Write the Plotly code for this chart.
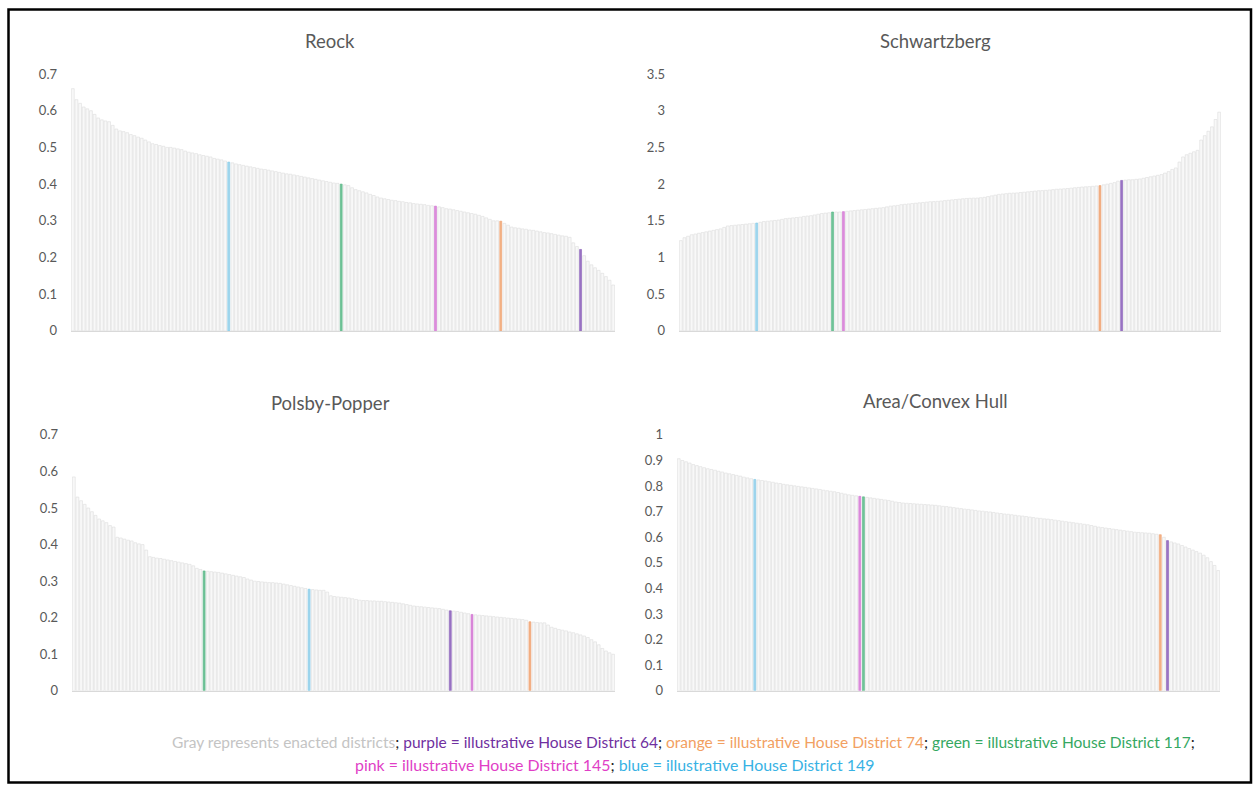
import plotly.graph_objects as go

W, H = 1258, 792

# ---------------- data (150 enacted districts per metric, sorted as in the chart) ----------------
reock = [
    0.66, 0.63, 0.62, 0.61, 0.605, 0.60, 0.59, 0.58, 0.575, 0.572,
    0.57, 0.56, 0.55, 0.545, 0.543, 0.54, 0.535, 0.532, 0.528, 0.525,
    0.52, 0.515, 0.51, 0.508, 0.505, 0.503, 0.50, 0.50, 0.498, 0.496,
    0.494, 0.49, 0.487, 0.485, 0.483, 0.48, 0.478, 0.476, 0.474, 0.47,
    0.468, 0.466, 0.463, 0.46, 0.458, 0.455, 0.453, 0.451, 0.449, 0.447,
    0.445, 0.443, 0.441, 0.44, 0.438, 0.436, 0.434, 0.432, 0.43, 0.428,
    0.427, 0.425, 0.423, 0.421, 0.419, 0.417, 0.415, 0.413, 0.411, 0.409,
    0.407, 0.405, 0.403, 0.402, 0.40, 0.398, 0.396, 0.39, 0.385, 0.382,
    0.379, 0.376, 0.372, 0.369, 0.365, 0.362, 0.36, 0.358, 0.356, 0.355,
    0.353, 0.352, 0.35, 0.349, 0.347, 0.346, 0.345, 0.344, 0.342, 0.341,
    0.34, 0.338, 0.336, 0.333, 0.332, 0.33, 0.328, 0.326, 0.324, 0.322,
    0.32, 0.318, 0.315, 0.312, 0.308, 0.304, 0.30, 0.30, 0.299, 0.293,
    0.288, 0.283, 0.281, 0.28, 0.278, 0.277, 0.275, 0.274, 0.272, 0.27,
    0.268, 0.267, 0.265, 0.263, 0.261, 0.259, 0.258, 0.255, 0.24, 0.23,
    0.222, 0.205, 0.19, 0.18, 0.172, 0.165, 0.157, 0.148, 0.138, 0.125,
]
schwartzberg = [
    1.23, 1.27, 1.29, 1.31, 1.32, 1.33, 1.34, 1.35, 1.36, 1.37,
    1.38, 1.39, 1.41, 1.43, 1.435, 1.44, 1.445, 1.45, 1.455, 1.46,
    1.465, 1.47, 1.48, 1.49, 1.495, 1.50, 1.505, 1.51, 1.52, 1.53,
    1.535, 1.54, 1.545, 1.55, 1.56, 1.565, 1.57, 1.58, 1.59, 1.60,
    1.605, 1.61, 1.62, 1.62, 1.62, 1.625, 1.63, 1.635, 1.64, 1.645,
    1.65, 1.655, 1.66, 1.665, 1.67, 1.675, 1.68, 1.69, 1.70, 1.705,
    1.71, 1.72, 1.725, 1.73, 1.735, 1.74, 1.745, 1.75, 1.755, 1.76,
    1.762, 1.765, 1.77, 1.775, 1.78, 1.785, 1.79, 1.795, 1.80, 1.805,
    1.807, 1.809, 1.81, 1.815, 1.82, 1.83, 1.84, 1.85, 1.86, 1.865,
    1.87, 1.875, 1.878, 1.88, 1.885, 1.89, 1.895, 1.90, 1.905, 1.91,
    1.912, 1.915, 1.92, 1.925, 1.93, 1.933, 1.936, 1.94, 1.945, 1.95,
    1.955, 1.96, 1.963, 1.966, 1.97, 1.975, 1.98, 1.99, 2.00, 2.01,
    2.02, 2.04, 2.05, 2.055, 2.06, 2.06, 2.065, 2.07, 2.08, 2.09,
    2.10, 2.11, 2.12, 2.13, 2.15, 2.17, 2.20, 2.22, 2.30, 2.37,
    2.40, 2.42, 2.44, 2.46, 2.60, 2.66, 2.72, 2.78, 2.88, 2.98,
]
polsby_popper = [
    0.585, 0.53, 0.52, 0.51, 0.50, 0.49, 0.48, 0.47, 0.465, 0.46,
    0.452, 0.448, 0.42, 0.418, 0.415, 0.412, 0.41, 0.405, 0.402, 0.40,
    0.385, 0.367, 0.365, 0.363, 0.362, 0.36, 0.358, 0.356, 0.354, 0.352,
    0.35, 0.348, 0.346, 0.342, 0.335, 0.332, 0.328, 0.327, 0.326, 0.325,
    0.324, 0.322, 0.32, 0.318, 0.316, 0.314, 0.312, 0.31, 0.306, 0.303,
    0.30, 0.299, 0.298, 0.297, 0.296, 0.296, 0.295, 0.294, 0.292, 0.29,
    0.288, 0.286, 0.284, 0.282, 0.28, 0.278, 0.277, 0.276, 0.275, 0.275,
    0.27, 0.26, 0.258, 0.257, 0.256, 0.255, 0.254, 0.252, 0.25, 0.248,
    0.247, 0.247, 0.246, 0.246, 0.245, 0.245, 0.244, 0.243, 0.242, 0.241,
    0.24, 0.238, 0.236, 0.234, 0.232, 0.231, 0.23, 0.229, 0.228, 0.227,
    0.226, 0.225, 0.223, 0.221, 0.219, 0.218, 0.217, 0.215, 0.213, 0.211,
    0.209, 0.208, 0.207, 0.206, 0.205, 0.204, 0.203, 0.202, 0.201, 0.20,
    0.199, 0.198, 0.197, 0.196, 0.195, 0.193, 0.189, 0.188, 0.187, 0.186,
    0.186, 0.18, 0.174, 0.171, 0.168, 0.166, 0.164, 0.161, 0.159, 0.156,
    0.153, 0.15, 0.146, 0.14, 0.134, 0.126, 0.116, 0.109, 0.104, 0.10,
]
area_convex_hull = [
    0.907, 0.90, 0.895, 0.89, 0.884, 0.88, 0.876, 0.872, 0.868, 0.865,
    0.862, 0.858, 0.855, 0.851, 0.848, 0.845, 0.842, 0.839, 0.835, 0.832,
    0.829, 0.826, 0.824, 0.822, 0.82, 0.817, 0.815, 0.812, 0.81, 0.807,
    0.805, 0.803, 0.801, 0.799, 0.797, 0.795, 0.793, 0.791, 0.789, 0.787,
    0.784, 0.782, 0.78, 0.778, 0.775, 0.772, 0.769, 0.766, 0.764, 0.762,
    0.76, 0.758, 0.756, 0.754, 0.752, 0.75, 0.748, 0.746, 0.744, 0.741,
    0.738, 0.736, 0.734, 0.733, 0.732, 0.731, 0.73, 0.729, 0.728, 0.727,
    0.726, 0.725, 0.723, 0.721, 0.72, 0.718, 0.716, 0.714, 0.712, 0.71,
    0.709, 0.707, 0.705, 0.703, 0.702, 0.70, 0.699, 0.697, 0.695, 0.693,
    0.691, 0.69, 0.688, 0.686, 0.684, 0.683, 0.681, 0.679, 0.677, 0.675,
    0.674, 0.672, 0.671, 0.669, 0.667, 0.665, 0.663, 0.661, 0.659, 0.657,
    0.655, 0.653, 0.651, 0.649, 0.646, 0.643, 0.64, 0.638, 0.636, 0.634,
    0.632, 0.63, 0.628, 0.626, 0.624, 0.622, 0.62, 0.619, 0.618, 0.617,
    0.616, 0.614, 0.612, 0.61, 0.60, 0.587, 0.582, 0.578, 0.574, 0.568,
    0.562, 0.556, 0.55, 0.544, 0.538, 0.53, 0.52, 0.505, 0.49, 0.47,
]

# positions (0-based rank) of the illustrative districts in each sorted metric
highlight_names = ["purple", "orange", "green", "pink", "blue"]
reock_highlight = [140, 118, 74, 100, 43]
schwartzberg_highlight = [122, 116, 42, 45, 21]
polsby_popper_highlight = [104, 126, 36, 110, 65]
area_convex_hull_highlight = [135, 133, 51, 50, 21]

panel_titles = ["Reock", "Schwartzberg", "Polsby-Popper", "Area/Convex Hull"]
y_ranges = [[0, 0.7], [0, 3.5], [0, 0.7], [0, 1.0]]
y_dticks = [0.1, 0.5, 0.1, 0.1]

caption_parts = [
    ("Gray represents enacted districts", "gray"),
    ("; ", "sep"),
    ("purple = illustrative House District 64", "purple"),
    ("; ", "sep"),
    ("orange = illustrative House District 74", "orange"),
    ("; ", "sep"),
    ("green = illustrative House District 117", "green"),
    (";", "sep"),
]
caption_parts2 = [
    ("pink = illustrative House District 145", "pink"),
    ("; ", "sep"),
    ("blue = illustrative House District 149", "blue"),
]

# ---------------- styles ----------------
bar_fill = {"purple": "#9a74c4", "orange": "#f3b388", "green": "#72c49a",
            "pink": "#dc8edc", "blue": "#a3d8ee"}
bar_edge = {"purple": "#8a60b8", "orange": "#efa06e", "green": "#55b583",
            "pink": "#d274d2", "blue": "#80c8e6"}
text_col = {"gray": "#c4c4c4", "sep": "#222222", "purple": "#7030a0", "orange": "#f2a062",
            "green": "#35a862", "pink": "#e03ec6", "blue": "#38b2e4"}
gray_fill = "#f8f8f8"
gray_edge = "#dedede"
label_col = "#595959"
FONT = "Lato"


# screen-y (target picture) -> layout pixel, compensating the observed vertical offset/scale
def py(y):
    return (y - 8.0) / 0.98


# pixel layout of plot areas (left, right, top, bottom) in target-picture pixels
areas = [(71, 615, 74, 331), (679, 1221, 74, 331), (72, 615, 435, 691), (677, 1220, 435, 691)]
title_pos = [(330, 41), (935, 41), (330, 403), (935, 401)]

datasets = [reock, schwartzberg, polsby_popper, area_convex_hull]
highlights = [reock_highlight, schwartzberg_highlight, polsby_popper_highlight, area_convex_hull_highlight]

fig = go.Figure()
layout_axes = {}
annotations = []

for k, (vals, hl) in enumerate(zip(datasets, highlights)):
    n = len(vals)
    cats = list(range(1, n + 1))
    fills = [gray_fill] * n
    edges = [gray_edge] * n
    widths = [0.78] * n
    for name, idx in zip(highlight_names, hl):
        fills[idx] = bar_fill[name]
        edges[idx] = bar_edge[name]
        widths[idx] = 0.55
    xa = "x" if k == 0 else f"x{k+1}"
    ya = "y" if k == 0 else f"y{k+1}"
    fig.add_trace(go.Bar(
        x=cats, y=vals, xaxis=xa, yaxis=ya, width=widths,
        marker=dict(color=fills, line=dict(color=edges, width=0.6)),
        showlegend=False, hoverinfo="y",
    ))
    l, r, t, b = areas[k]
    xkey = "xaxis" if k == 0 else f"xaxis{k+1}"
    ykey = "yaxis" if k == 0 else f"yaxis{k+1}"
    layout_axes[xkey] = dict(
        domain=[l / W, r / W], anchor=ya, type="category",
        showticklabels=False, ticks="", showgrid=False, zeroline=False,
        showline=True, linecolor="#d9d9d9", linewidth=1,
        range=[-0.5, n - 0.5],
    )
    layout_axes[ykey] = dict(
        domain=[1 - py(b) / H, 1 - py(t) / H], anchor=xa,
        range=y_ranges[k], dtick=y_dticks[k], tick0=0,
        showgrid=False, zeroline=False, showline=False, ticks="",
        ticklabelstandoff=13,
        tickfont=dict(family=FONT, size=13, color=label_col),
    )
    tx, ty = title_pos[k]
    annotations.append(dict(
        text=panel_titles[k], x=tx / W, y=1 - py(ty) / H, xref="paper", yref="paper",
        showarrow=False, xanchor="center", yanchor="middle",
        font=dict(family=FONT, size=18.5, color=label_col),
    ))


def span_text(parts):
    return "".join(f'<span style="color:{text_col[c]}">{s}</span>' for s, c in parts)


annotations.append(dict(
    text=span_text(caption_parts), x=683 / W, y=1 - py(742) / H, xref="paper", yref="paper",
    showarrow=False, xanchor="center", yanchor="middle",
    font=dict(family=FONT, size=15.5, color="#222222"),
))
annotations.append(dict(
    text=span_text(caption_parts2), x=614 / W, y=1 - py(765) / H, xref="paper", yref="paper",
    showarrow=False, xanchor="center", yanchor="middle",
    font=dict(family=FONT, size=15.9, color="#222222"),
))

fig.update_layout(
    width=W, height=H, autosize=False,
    margin=dict(l=0, r=0, t=0, b=0),
    paper_bgcolor="white", plot_bgcolor="white",
    annotations=annotations,
    shapes=[dict(type="rect", xref="paper", yref="paper",
                 x0=8.5 / W, x1=1251 / W, y0=1 - 790.5 / H, y1=1 - 1.5 / H,
                 line=dict(color="black", width=2.5), fillcolor="rgba(0,0,0,0)")],
    **layout_axes,
)

post = (
    "var d=document.getElementById('{plot_id}');"
    "d.style.position='fixed';d.style.left='0px';d.style.top='0px';"
    "document.documentElement.style.margin='0';document.body.style.margin='0';"
    "document.documentElement.style.overflow='hidden';document.body.style.overflow='hidden';"
)

fig.write_html("out.html", post_script=post, config={"displayModeBar": False})
